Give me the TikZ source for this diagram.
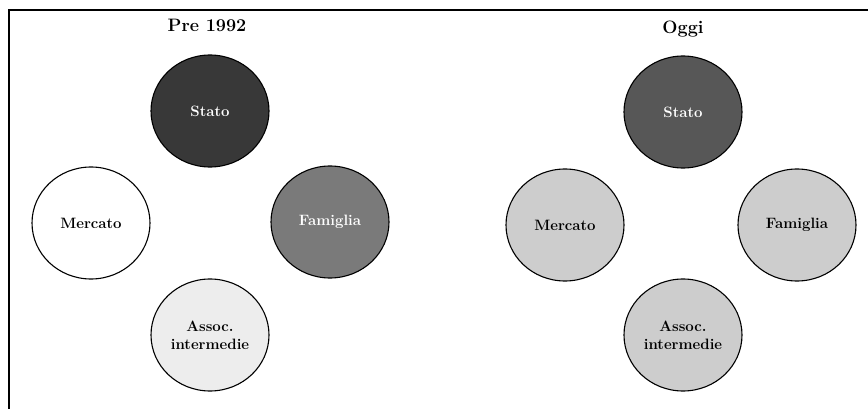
\documentclass[tikz,border=0pt]{standalone}
\usetikzlibrary{shapes.geometric}
\definecolor{statoA}{HTML}{383838}
\definecolor{famA}{HTML}{7A7A7A}
\definecolor{assocA}{HTML}{EDEDED}
\definecolor{statoB}{HTML}{575757}
\definecolor{lightB}{HTML}{CDCDCD}
\begin{document}
\begin{tikzpicture}[x=1pt,y=-1pt,
  blob/.style={ellipse,draw=black,line width=1.1pt,minimum width=118pt,minimum height=112pt,inner sep=0pt,align=center,font=\bfseries\fontsize{15}{18}\selectfont},
  title/.style={font=\bfseries\fontsize{18}{20}\selectfont}]
\useasboundingbox (0,0) rectangle (868,409);
\draw[line width=2pt] (9,409) -- (9,10) -- (868,10);
\node[title] (t1) at (207,25) {Pre 1992};
\node[title] (t2) at (683,29) {Oggi};
% left
\node[blob,fill=statoA,text=white] (s1) at (210,111) {Stato};
\node[blob,fill=white] (m1) at (91,223) {Mercato};
\node[blob,fill=famA,text=white] (f1) at (330,222) {Famiglia};
\node[blob,fill=assocA] (a1) at (210,335) {Assoc.\\intermedie};
% right
\node[blob,fill=statoB,text=white] (s2) at (683,112) {Stato};
\node[blob,fill=lightB] (m2) at (565,225) {Mercato};
\node[blob,fill=lightB] (f2) at (797,225) {Famiglia};
\node[blob,fill=lightB] (a2) at (683,335) {Assoc.\\intermedie};
\end{tikzpicture}
\end{document}
